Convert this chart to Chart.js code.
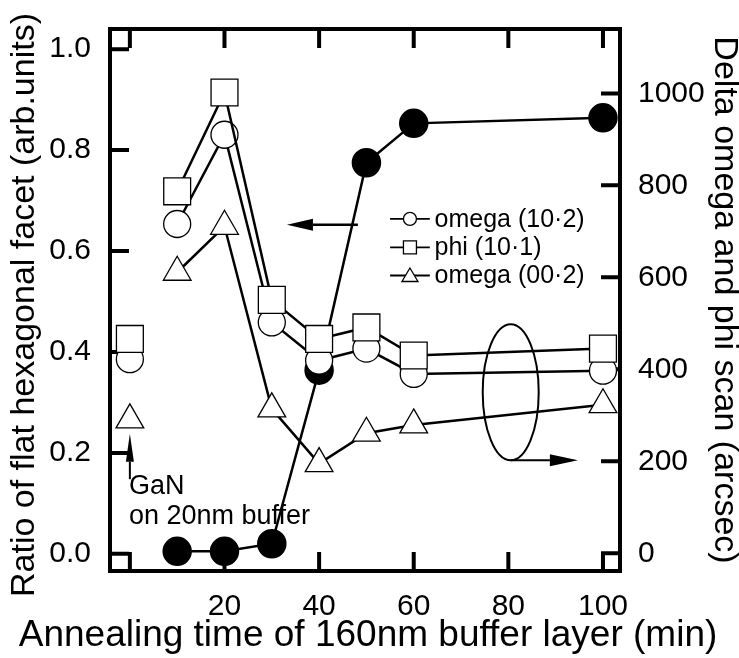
<!DOCTYPE html>
<html>
<head>
<meta charset="utf-8">
<script src="https://cdn.jsdelivr.net/npm/chart.js"></script>
<style>
  html, body { margin: 0; padding: 0; background: #fff; }
  canvas { display: block; }
</style>
</head>
<body>
<canvas id="myChart" width="739" height="658"></canvas>
<script>
const times = [0, 10, 20, 30, 40, 50, 60, 100];
const omega102 = [422, 716, 910, 502, 419, 445, 390, 397];
const phi101 = [466, 787, 1002, 551, 466, 491, 430, 445];
const omega002 = [290, 611, 711, 314, 195, 261, 279, 323];
const facetTimes = [10, 20, 30, 40, 50, 60, 100];
const facetRatio = [0.005, 0.005, 0.02, 0.364, 0.775, 0.853, 0.864];

const xTicks = [0, 20, 40, 60, 80, 100];
const xTickLabels = ['', '20', '40', '60', '80', '100'];
const ratioTicks = [0, 0.2, 0.4, 0.6, 0.8, 1.0];
const arcsecTicks = [0, 200, 400, 600, 800, 1000];
const seriesNames = ['omega (10\u00b72)', 'phi (10\u00b71)', 'omega (00\u00b72)'];
const xTitle = 'Annealing time of 160nm buffer layer (min)';
const ratioTitle = 'Ratio of flat hexagonal facet (arb.units)';
const arcsecTitle = 'Delta omega and phi scan (arcsec)';

const family = "'Liberation Sans', Arial, Helvetica, sans-serif";
const pts = (xs, ys) => xs.map((x, i) => ({ x: x, y: ys[i] }));
// the x=0 point (20nm buffer) stands alone
const skipFirst = { borderColor: c => c.p0DataIndex === 0 ? 'rgba(0,0,0,0)' : '#000' };

const openMarker = {
  borderColor: '#000',
  borderWidth: 2.5,
  pointBackgroundColor: '#fff',
  pointBorderColor: '#000',
  pointBorderWidth: 1.3,
  showLine: true,
  segment: skipFirst,
  yAxisID: 'y2'
};

function arrow(ctx, x1, y1, x2, y2, len, half) {
  const a = Math.atan2(y2 - y1, x2 - x1);
  const bx = x2 - Math.cos(a) * len, by = y2 - Math.sin(a) * len;
  ctx.beginPath();
  ctx.moveTo(x1, y1);
  ctx.lineTo(bx, by);
  ctx.stroke();
  ctx.beginPath();
  ctx.moveTo(x2, y2);
  ctx.lineTo(bx - Math.sin(a) * half, by + Math.cos(a) * half);
  ctx.lineTo(bx + Math.sin(a) * half, by - Math.cos(a) * half);
  ctx.closePath();
  ctx.fill();
}

function legendMarker(ctx, style, x, y) {
  ctx.beginPath();
  if (style === 'circle') {
    ctx.arc(x, y, 6.5, 0, Math.PI * 2);
  } else if (style === 'rect') {
    ctx.rect(x - 6.5, y - 6.5, 13, 13);
  } else {
    ctx.moveTo(x, y - 7.5);
    ctx.lineTo(x + 8, y + 6);
    ctx.lineTo(x - 8, y + 6);
    ctx.closePath();
  }
  ctx.fillStyle = '#fff';
  ctx.fill();
  ctx.stroke();
}

const decorations = {
  id: 'decorations',
  beforeDatasetsDraw(chart) {
    const { ctx, chartArea: a, scales } = chart;
    ctx.save();
    ctx.strokeStyle = '#000';
    ctx.lineWidth = 4;
    ctx.strokeRect(a.left, a.top, a.right - a.left, a.bottom - a.top);
    ctx.beginPath();
    xTicks.forEach(v => {
      const p = scales.x.getPixelForValue(v);
      ctx.moveTo(p, a.bottom); ctx.lineTo(p, a.bottom - 19);
      ctx.moveTo(p, a.top); ctx.lineTo(p, a.top + 19);
    });
    ratioTicks.forEach(v => {
      const p = scales.y.getPixelForValue(v);
      ctx.moveTo(a.left, p); ctx.lineTo(a.left + 19, p);
    });
    arcsecTicks.forEach(v => {
      const p = scales.y2.getPixelForValue(v);
      ctx.moveTo(a.right, p); ctx.lineTo(a.right - 19, p);
    });
    ctx.stroke();
    ctx.restore();
  },
  afterDraw(chart) {
    const { ctx, scales } = chart;
    const X = v => scales.x.getPixelForValue(v);
    const Y = v => scales.y.getPixelForValue(v);
    const Y2 = v => scales.y2.getPixelForValue(v);
    ctx.save();
    ctx.strokeStyle = '#000';
    ctx.fillStyle = '#000';

    // axis titles wider than the plot (the built-in title would squeeze them)
    ctx.textAlign = 'center';
    ctx.textBaseline = 'alphabetic';
    ctx.font = '37px ' + family;
    ctx.fillText(xTitle, 368, 646);
    ctx.save();
    ctx.translate(34, 305);
    ctx.rotate(-Math.PI / 2);
    ctx.font = '34px ' + family;
    ctx.fillText(ratioTitle, 0, 0);
    ctx.restore();

    // arrow to the left axis
    ctx.lineWidth = 2.5;
    arrow(ctx, X(48.2), Y(0.652), X(33.2), Y(0.652), 26, 6);

    // ellipse round the open markers, arrow to the right axis
    const ex = X(80.5), ey = Y2(350);
    ctx.lineWidth = 2;
    ctx.beginPath();
    ctx.ellipse(ex, ey, 28, 68, 0, 0, Math.PI * 2);
    ctx.stroke();
    arrow(ctx, ex, ey + 68, X(94.7), ey + 68, 28, 6);

    // GaN on 20nm buffer
    arrow(ctx, X(0), Y(0.148), X(0), Y(0.238), 28, 4);
    ctx.font = '27px ' + family;
    ctx.textAlign = 'left';
    ctx.fillText('GaN', X(-0.2), Y(0.118));
    ctx.fillText('on 20nm buffer', X(-0.2), Y(0.060));

    // legend
    const styles = ['circle', 'rect', 'triangle'];
    const rows = [727, 665, 604];
    ctx.font = '25px ' + family;
    ctx.textBaseline = 'middle';
    rows.forEach((r, i) => {
      const y = Y2(r);
      ctx.lineWidth = 1.8;
      ctx.beginPath();
      ctx.moveTo(X(55.0), y);
      ctx.lineTo(X(63.4), y);
      ctx.stroke();
      ctx.lineWidth = 1.3;
      legendMarker(ctx, styles[i], X(59.2), y);
      ctx.fillStyle = '#000';
      ctx.fillText(seriesNames[i], X(64.4), y + 1);
    });
    ctx.restore();
  }
};

const ctx = document.getElementById('myChart').getContext('2d');
const myChart = new Chart(ctx, {
  type: 'scatter',
  data: {
    datasets: [
      Object.assign({ label: seriesNames[1], data: pts(times, phi101), pointStyle: 'rect', pointRadius: 19, order: 1 }, openMarker),
      Object.assign({ label: seriesNames[0], data: pts(times, omega102), pointStyle: 'circle', pointRadius: 13.5, order: 2 }, openMarker),
      Object.assign({ label: seriesNames[2], data: pts(times, omega002), pointStyle: 'triangle', pointRadius: 16, order: 3 }, openMarker),
      {
        label: 'flat hexagonal facet',
        data: pts(facetTimes, facetRatio),
        yAxisID: 'y',
        showLine: true,
        borderColor: '#000',
        borderWidth: 2.5,
        pointStyle: 'circle',
        pointRadius: 13.5,
        pointBackgroundColor: '#000',
        pointBorderColor: '#000',
        order: 10
      }
    ]
  },
  options: {
    responsive: false,
    devicePixelRatio: 1,
    animation: false,
    events: [],
    clip: false,
    layout: { padding: { top: 21, left: 0, right: 0, bottom: 0 } },
    plugins: { legend: { display: false }, tooltip: { enabled: false } },
    scales: {
      x: {
        type: 'linear',
        position: 'bottom',
        min: -4.2,
        max: 103.6,
        afterBuildTicks: s => { s.ticks = xTicks.map(v => ({ value: v })); },
        afterFit: s => { s.height = 87; },
        grid: { display: false },
        border: { display: false },
        ticks: {
          callback: (v, i) => xTickLabels[i],
          font: { family: family, size: 30 },
          color: '#000',
          padding: 10,
          maxRotation: 0,
          autoSkip: false
        }
      },
      y: {
        type: 'linear',
        position: 'left',
        min: -0.034,
        max: 1.040,
        afterBuildTicks: s => { s.ticks = ratioTicks.map(v => ({ value: v })); },
        afterFit: s => { s.width = 110; },
        grid: { display: false },
        border: { display: false },
        ticks: {
          callback: v => v.toFixed(1),
          font: { family: family, size: 30 },
          color: '#000',
          padding: 11
        }
      },
      y2: {
        type: 'linear',
        position: 'right',
        min: -38.6,
        max: 1140,
        afterBuildTicks: s => { s.ticks = arcsecTicks.map(v => ({ value: v })); },
        afterFit: s => { s.width = 119; },
        grid: { display: false },
        border: { display: false },
        ticks: {
          callback: v => String(v),
          font: { family: family, size: 30 },
          color: '#000',
          padding: 10
        },
        title: {
          display: true,
          text: arcsecTitle,
          font: { family: family, size: 34 },
          color: '#000',
          padding: { top: -6, bottom: 0 }
        }
      }
    }
  },
  plugins: [decorations]
});
</script>
</body>
</html>
